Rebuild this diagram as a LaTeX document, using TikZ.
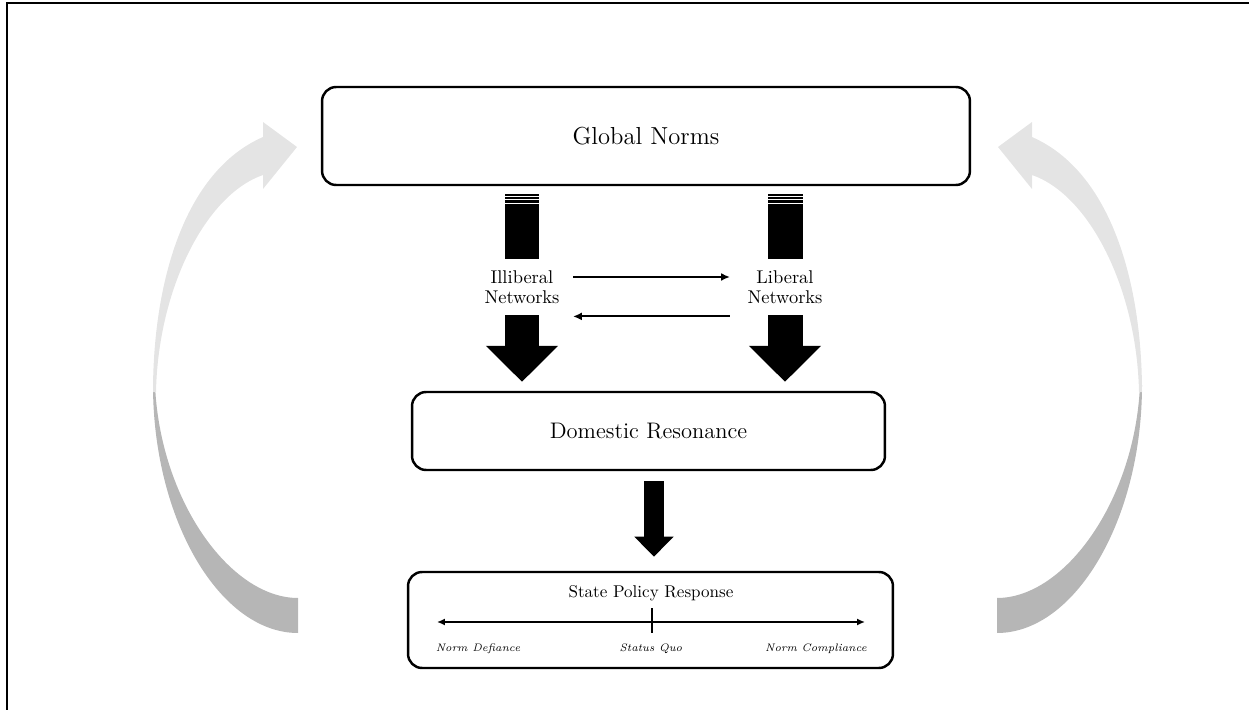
\documentclass[tikz,border=0pt]{standalone}
\usepackage{tikz}
\usetikzlibrary{arrows.meta}
\definecolor{arcLight}{HTML}{E4E4E4}
\definecolor{arcDark}{HTML}{B6B6B6}

% one feedback loop, drawn on the left
\newcommand{\loopArc}{%
  \fill[arcDark] (153,385) .. controls (153,520) and (220,633) .. (298,633)
    -- (298,598) .. controls (230,598) and (160,500) .. (155,385) -- cycle;
  \fill[arcLight] (153,392) .. controls (153,285) and (183,172) .. (263,137)
    -- (263,122) -- (297,147) -- (263,189) -- (263,175)
    .. controls (205,195) and (158,290) .. (156,392) -- cycle;
}

\begin{document}
\begin{tikzpicture}[
  x=0.02cm,y=-0.02cm,
  box/.style={draw=black,line width=1.4pt,rounded corners=8pt,fill=white,inner sep=0pt},
  lbl/.style={font=\fontsize{10.5}{11.4}\selectfont,align=center,inner sep=0pt,minimum height=1.12cm},
  bar/.style={line width=0.7cm},
  big/.style={line width=0.7cm,-{Triangle[length=0.72cm,width=1.4cm]}},
  mid/.style={line width=0.4cm,-{Triangle[length=0.4cm,width=0.76cm]}},
  link/.style={line width=1.2pt,-{Latex[length=5pt,width=4.5pt]}},
  axis/.style={line width=1.2pt,{Latex[length=4.5pt,width=4pt]}-{Latex[length=4.5pt,width=4pt]}},
  pole/.style={font=\fontsize{6.2}{7}\selectfont\itshape,inner sep=0pt}
]
  \useasboundingbox (0,0) rectangle (1249,710);

  % Frame
  \draw[line width=0.9pt] (7,710) -- (7,3) -- (1249,3);

  % Feedback loops
  \loopArc
  \begin{scope}[shift={(1295,0)},xscale=-1]
    \loopArc
  \end{scope}

  % Row 1 — global norms
  \node[box,minimum width=12.96cm,minimum height=1.96cm,font=\fontsize{14}{16}\selectfont] (gn) at (646,136) {Global Norms};

  % Row 2 — networks
  \node[lbl] (ill) at (522,287) {Illiberal\\Networks};
  \node[lbl] (lib) at (785,287) {Liberal\\Networks};

  \draw[link,shorten <=7.5pt,shorten >=9.8pt] ([yshift=5.7pt]ill.east) -- ([yshift=5.7pt]lib.west);
  \draw[link,shorten <=9.8pt,shorten >=7.5pt] ([yshift=-0.6pt]lib.south west) -- ([yshift=-0.6pt]ill.south east);

  % Row 3 — domestic resonance
  \node[box,minimum width=9.46cm,minimum height=1.56cm,font=\fontsize{12.8}{15}\selectfont] (dr) at (648.5,431) {Domestic Resonance};

  \foreach \n in {ill,lib} {
    \draw[bar,shorten <=4.55pt] (gn.south -| \n.north) -- (\n.north);
    \foreach \dy in {-62.5,-59,-55.5}
      \draw[white,line width=0.6pt] (\n.north) ++(-17.5,\dy) -- ++(35,0);
    \draw[big,shorten >=5.1pt] (\n.south) -- (\n.south |- dr.north);
  }

  % Row 4 — state policy response
  \node[box,minimum width=9.7cm,minimum height=1.92cm] (spr) at (650.5,620) {};
  \node[font=\fontsize{9.7}{11}\selectfont,inner sep=0pt] (sprt) at (651,593) {State Policy Response};
  \coordinate (axl) at (437,622);
  \coordinate (axr) at (865,622);
  \coordinate (sqt) at (652,608);
  \coordinate (sqb) at (652,633);
  \node[pole] (nd) at (478,649) {Norm Defiance};
  \node[pole] (sq) at (651,649) {Status Quo};
  \node[pole] (nc) at (816,649) {Norm Compliance};
  \draw[axis] (axl) -- (axr);
  \draw[line width=1.2pt] (sqt) -- (sqb);

  \coordinate (midtop) at ([xshift=3.1pt]dr.south);
  \draw[mid,shorten <=5.7pt,shorten >=8pt] (midtop) -- (midtop |- spr.north);
\end{tikzpicture}
\end{document}
